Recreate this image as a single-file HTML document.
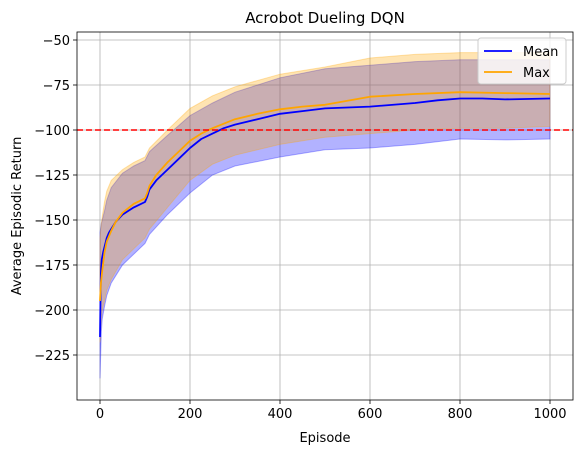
<!DOCTYPE html>
<html><head><meta charset="utf-8"><style>
body{margin:0;background:#fff;}
svg{font-family:"DejaVu Sans","Liberation Sans",sans-serif;}
</style></head><body>
<svg id="c" width="583" height="455" xmlns="http://www.w3.org/2000/svg"></svg>
<script>
const meanX=[0,1,2,4,7,10,15,20,25,35,50,75,100,105,110,125,150,175,200,225,250,275,300,350,400,450,500,600,700,750,800,850,900,1000];
const meanY=[-215,-196,-180,-172,-168,-165,-160,-157,-155,-151,-147,-143,-140,-137,-133,-128,-122,-116,-110,-105,-102,-99,-97,-94,-91,-89.5,-88,-87,-85,-83.5,-82.5,-82.5,-83,-82.5];
const maxX=[0,2,5,10,15,20,25,35,50,75,100,105,110,125,150,175,200,225,250,275,300,350,400,450,500,600,700,800,900,1000];
const maxY=[-195,-185,-178,-168,-162,-159,-156,-151,-146,-141,-138,-135,-131,-125,-118,-112,-106,-102,-99,-96.5,-94,-91,-88.5,-87,-86,-81.5,-80,-79,-79.5,-80];
const meanBandX=[0,3,5,10,15,25,50,75,100,110,150,200,250,300,400,500,600,700,800,900,1000];
const meanBandHi=[-157,-152,-150,-145,-139,-132,-124,-120,-117,-112,-103,-92,-85,-79,-71,-66,-64,-62,-61,-61,-61];
const meanBandLo=[-238,-212,-205,-198,-192,-185,-175,-169,-163,-158,-147,-135,-125,-120,-115,-111,-110,-108,-105,-105.5,-105];
const maxBandX=[0,3,5,10,15,25,50,75,100,110,150,200,250,300,400,500,600,700,800,900,1000];
const maxBandHi=[-160,-152,-148,-140,-134,-128,-122,-118,-115,-110,-100,-88,-81,-76,-69,-65,-60,-58,-57,-57,-57];
const maxBandLo=[-218,-205,-200,-195,-189,-183,-172,-166,-160,-155,-143,-128,-119,-114,-108,-104,-102,-100,-99,-99,-98];
const xTicks=[0,200,400,600,800,1000];
const yTicks=[-225,-200,-175,-150,-125,-100,-75,-50];
const threshold=-100;

const L=77,R=573,T=32,B=400;
const sx=v=>100+(v-0)*0.45;
const sy=v=>40+(-50-v)*1.8;
const svg=document.getElementById('c');
const NS='http://www.w3.org/2000/svg';
function mk(tag,attrs,parent){const e=document.createElementNS(NS,tag);for(const k in attrs)e.setAttribute(k,attrs[k]);(parent||svg).appendChild(e);return e;}

xTicks.forEach(t=>{
  const g=mk('line',{x1:sx(t),x2:sx(t),y1:T,y2:B,stroke:'#b0b0b0','stroke-width':0.8});
  
  
  mk('line',{x1:sx(t),x2:sx(t),y1:B,y2:B+4,stroke:'#000','stroke-width':0.8});
  const tx=mk('text',{x:sx(t),y:B+18,'text-anchor':'middle','font-size':13,fill:'#000'});
  tx.textContent=t;
  
  
});
yTicks.forEach(t=>{
  const g=mk('line',{x1:L,x2:R,y1:sy(t),y2:sy(t),stroke:'#b0b0b0','stroke-width':0.8});
  
  
  mk('line',{x1:L-4,x2:L,y1:sy(t),y2:sy(t),stroke:'#000','stroke-width':0.8});
  const tx=mk('text',{x:L-7,y:sy(t)+5,'text-anchor':'end','font-size':13,fill:'#000'});
  tx.textContent=t.toString().replace('-','\u2212');
  
  
});

function band(xs,hi,lo,color,name){
  let d='M'+xs.map((x,i)=>sx(x)+','+sy(hi[i])).join(' L');
  for(let i=xs.length-1;i>=0;i--)d+=' L'+sx(xs[i])+','+sy(lo[i]);
  const p=mk('path',{d:d+'Z',fill:color,'fill-opacity':0.3,stroke:color,'stroke-opacity':0.3});
  
  
}
band(meanBandX,meanBandHi,meanBandLo,'#0000ff','mean-band');
band(maxBandX,maxBandHi,maxBandLo,'#ffa500','max-band');

function line(xs,ys,color,name){
  const p=mk('polyline',{points:xs.map((x,i)=>sx(x)+','+sy(ys[i])).join(' '),fill:'none',stroke:color,'stroke-width':1.8,'stroke-linejoin':'round'});
  
  
}
line(meanX,meanY,'#0000ff','mean-line');
line(maxX,maxY,'#ffa500','max-line');

const th=mk('line',{x1:L,x2:R,y1:sy(threshold),y2:sy(threshold),stroke:'#ff0000','stroke-width':1.6,'stroke-dasharray':'6,3'});



const ax=mk('rect',{x:L,y:T,width:R-L,height:B-T,fill:'none',stroke:'#000','stroke-width':0.8});



const lg=mk('g',{});


mk('rect',{x:478,y:38,width:88,height:46,rx:3,fill:'#fff','fill-opacity':0.8,stroke:'#ccc'},lg);
mk('line',{x1:484,x2:512,y1:51,y2:51,stroke:'#0000ff','stroke-width':1.8},lg);
mk('line',{x1:484,x2:512,y1:72,y2:72,stroke:'#ffa500','stroke-width':1.8},lg);
const t1=mk('text',{x:523,y:56,'font-size':13},lg);t1.textContent='Mean';


const t2=mk('text',{x:523,y:77,'font-size':13},lg);t2.textContent='Max';


</script>
<svg style="position:absolute;left:0;top:0" width="583" height="455" xmlns="http://www.w3.org/2000/svg">
<text x="325" y="23" text-anchor="middle" font-size="15" font-family="DejaVu Sans, sans-serif">Acrobot Dueling DQN</text>
<text x="325" y="442" text-anchor="middle" font-size="13" font-family="DejaVu Sans, sans-serif">Episode</text>
<text x="21" y="216" text-anchor="middle" font-size="13" font-family="DejaVu Sans, sans-serif" transform="rotate(-90 21 216)">Average Episodic Return</text>
</svg>
</body></html>
